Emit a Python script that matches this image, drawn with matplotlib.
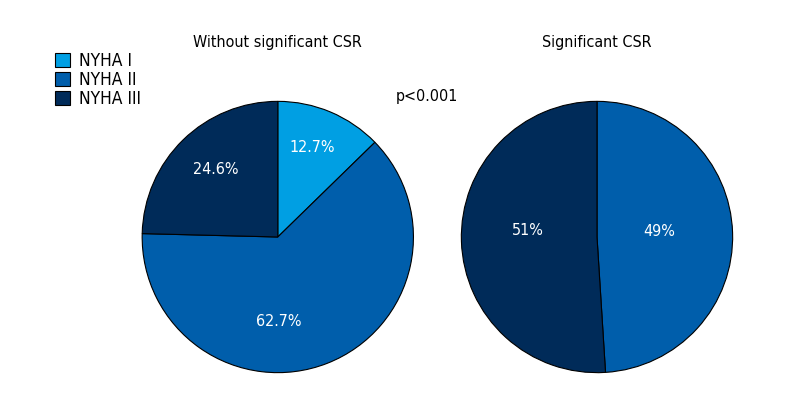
import matplotlib.pyplot as plt
from matplotlib.patches import Patch

plt.rcParams['font.family'] = ['DejaVu Sans']
plt.rcParams['font.stretch'] = 'condensed'

# Datos
classes = ['NYHA I', 'NYHA II', 'NYHA III']
colors = ['#009fe3', '#005eab', '#002b59']
no_csr = [12.7, 62.7, 24.6]
no_csr_lbl = ['12.7%', '62.7%', '24.6%']
sig_csr = [49, 51]
sig_csr_lbl = ['49%', '51%']

# posicion de las etiquetas (fraccion del radio)
pos1 = [(0.25, 0.66), (0.007, -0.62), (-0.46, 0.50)]
pos2 = [(0.46, 0.04), (-0.51, 0.05)]

fs = 11.5

fig = plt.figure(figsize=(8, 4), dpi=100)

ax1 = fig.add_axes([0.176, 0.065, 0.3425, 0.685])
ax1.pie(no_csr, colors=colors, startangle=90, counterclock=False,
        radius=1, wedgeprops=dict(edgecolor='black', linewidth=0.8))
for (x, y), t in zip(pos1, no_csr_lbl):
    ax1.text(x, y, t, color='white', ha='center', va='center', fontsize=fs)
ax1.set_xlim(-1.01, 1.01)
ax1.set_ylim(-1.01, 1.01)
ax1.set_title('Without significant CSR', fontsize=fs, pad=38)

ax2 = fig.add_axes([0.575, 0.065, 0.3425, 0.685])
ax2.pie(sig_csr, colors=colors[1:], startangle=90, counterclock=False,
        radius=1, wedgeprops=dict(edgecolor='black', linewidth=0.8))
for (x, y), t in zip(pos2, sig_csr_lbl):
    ax2.text(x, y, t, color='white', ha='center', va='center', fontsize=fs)
ax2.set_xlim(-1.01, 1.01)
ax2.set_ylim(-1.01, 1.01)
ax2.set_title('Significant CSR', fontsize=fs, pad=38)

fig.text(427 / 800, 1 - 97 / 400, 'p<0.001', ha='center', va='center', fontsize=fs)

handles = [Patch(facecolor=c, edgecolor='black', linewidth=0.8) for c in colors]
fig.legend(handles, classes, loc='upper left', bbox_to_anchor=(0.058, 0.892),
           frameon=False, fontsize=12.5, handlelength=0.85, handleheight=0.85,
           handletextpad=0.55, labelspacing=0.05, borderpad=0)

plt.savefig('out.png', dpi=100)
